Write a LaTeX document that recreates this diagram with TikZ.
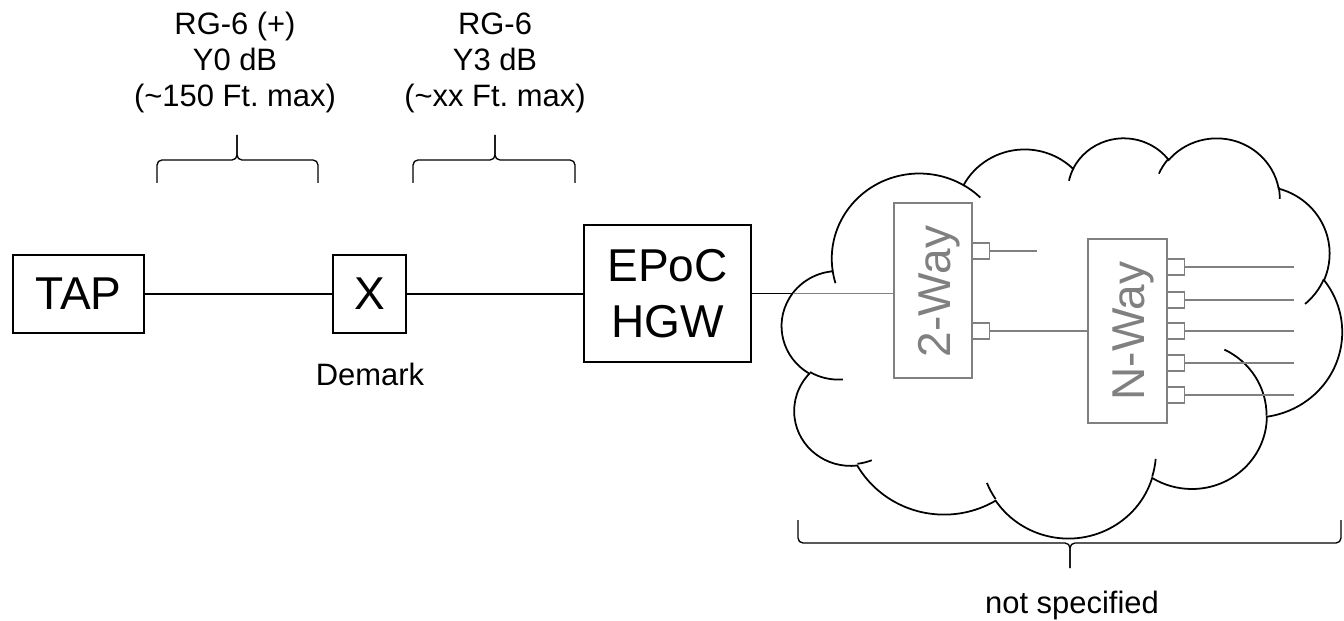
\documentclass[tikz,border=0pt]{standalone}
\usepackage{fontspec}
\setmainfont{Liberation Sans}
\usetikzlibrary{positioning}
\frenchspacing

\newcommand{\puffarc}[4]{arc[x radius=#1, y radius=#2,
  start angle={atan2(#1*sin(#3),#2*cos(#3))},
  delta angle={mod(atan2(#1*sin(#3+#4),#2*cos(#3+#4))-atan2(#1*sin(#3),#2*cos(#3))+720,360)}]}

\tikzset{
  box/.style={draw, line width=1.1pt, inner sep=0pt, align=center,
    font=\fontsize{26.2}{31.9}\selectfont},
  wire/.style={line width=0.85pt},
  gbox/.style={draw=gray, line width=0.75pt, inner sep=0pt},
  glbl/.style={text=gray, rotate=90, inner sep=0pt, text depth=0pt,
    font=\fontsize{26.2}{31.9}\selectfont},
  gport/.style={draw=gray, line width=0.75pt, inner sep=0pt,
    minimum width=0.34cm, minimum height=0.32cm, anchor=west},
  gwire/.style={gray, line width=0.6pt},
  lbl/.style={inner sep=0pt, align=center, font=\fontsize{17.6}{20.5}\selectfont},
  brc/.style={line width=0.75pt, rounded corners=0.1cm},
  cloudline/.style={line width=1pt},
}

\begin{document}
\begin{tikzpicture}
    \useasboundingbox (0,0) rectangle (26.88,-12.42);

    \begin{scope}[shift={(15.64,-2.74)}, x=0.025926cm, y=-0.018519cm, cloudline]
        \draw[fill=white] (39.00,143.70)
            \puffarc{67.53}{91.90}{-190.4875}{123.7805}
            \puffarc{53.33}{72.67}{-144.1024}{89.9452}
            \puffarc{43.65}{59.45}{-145.8079}{99.7230}
            \puffarc{48.57}{65.95}{-130.9861}{117.2417}
            \puffarc{53.33}{72.73}{-78.7089}{109.0269}
            \puffarc{67.75}{92.20}{-46.2673}{130.2690}
            \puffarc{57.85}{78.67}{0.6250}{114.0333}
            \puffarc{67.52}{92.15}{22.4516}{115.1726}
            \puffarc{77.20}{105.43}{66.2426}{75.7110}
            \puffarc{43.60}{59.18}{-274.9421}{146.7356}
            \puffarc{43.45}{59.45}{-246.8285}{152.5189}
            -- cycle;
        \foreach \px/\py/\rx/\ry/\st/\sw in {
            46.93/261.77/43.45/59.45/86.7420/26.4295,
            69.28/348.99/43.60/59.18/73.6105/11.4475,
            164.78/390.90/67.52/92.15/137.6242/14.0811,
            288.27/347.51/67.52/92.15/6.4533/15.9984,
            341.29/229.54/57.85/78.67/-70.2924/70.9174,
            417.98/153.54/53.33/72.73/30.3180/27.7515,
            383.24/54.26/48.57/65.95/-13.7443/14.8589,
            290.78/39.52/48.57/65.95/-149.1815/18.1954,
            221.41/47.20/43.65/59.45/-163.4943/17.6864,
            140.00/51.92/67.53/91.90/-66.7070/12.3194,
            41.27/157.89/67.53/91.90/157.6544/11.8582}
            \draw (\px,\py) \puffarc{\rx}{\ry}{\st}{\sw};
    \end{scope}

    \node[box, minimum width=2.62cm, minimum height=1.56cm] (tap) at (1.57,-5.88) {TAP};
    \node[box, minimum width=1.46cm, minimum height=1.56cm] (dmk) at (7.39,-5.88) {X};
    \node[box, minimum width=3.34cm, minimum height=2.74cm] (hgw) at (13.35,-5.87) {EPoC\\HGW};
    \node[lbl, anchor=base] (demark) at (7.40,-7.70) {Demark};

    \draw[wire] (tap) -- (dmk);
    \draw[wire] (dmk.east) -- (dmk.east -| hgw.west);
    \coordinate (cin) at (15.86,-5.87);
    \draw[wire] (hgw.east) -- (cin);

    \node[lbl, anchor=base] (rga) at (4.70,-2.14) {RG-6 (+)\\Y0 dB\\(\textasciitilde150 Ft. max)};
    \node[lbl, anchor=base] (rgb) at (9.90,-2.14) {RG-6\\Y3 dB\\(\textasciitilde xx Ft. max)};
    \draw[brc] (3.14,-3.66) |- (4.74,-3.20) -- (4.74,-2.70);
    \draw[brc] (6.36,-3.66) |- (4.74,-3.20) -- (4.74,-2.70);
    \draw[brc] (8.26,-3.66) |- (9.90,-3.20) -- (9.90,-2.70);
    \draw[brc] (11.50,-3.66) |- (9.90,-3.20) -- (9.90,-2.70);

    \node[gbox, minimum width=1.56cm, minimum height=3.5cm] (twoway) at (18.66,-5.81) {};
    \node[glbl] (twolbl) at (18.68,-5.83) {2-Way};
    \node[gbox, minimum width=1.58cm, minimum height=3.68cm] (nway) at (22.55,-6.62) {};
    \node[glbl] (nlbl) at (22.57,-6.62) {N-Way};

    \draw[gwire] (cin) -- (cin -| twoway.west);
    \node[gport] (tp1) at (19.44,-5.02) {};
    \node[gport] (tp2) at (19.44,-6.62) {};
    \coordinate (tend) at (20.74,-5.02);
    \draw[gwire] (tp1.east) -- (tend);
    \draw[gwire] (tp2.east) -- (nway.west);
    \foreach \i/\y in {1/-5.34,2/-6.00,3/-6.62,4/-7.26,5/-7.90} {
        \node[gport] (np\i) at (23.34,\y) {};
        \coordinate (ne\i) at (25.88,\y);
        \draw[gwire] (np\i.east) -- (ne\i);
    }

    \draw[brc] (15.96,-10.40) |- (21.40,-10.86) -- (21.40,-11.36);
    \draw[brc] (26.82,-10.40) |- (21.40,-10.86) -- (21.40,-11.36);
    \node[lbl, anchor=base] (nspec) at (21.44,-12.26) {not specified};
\end{tikzpicture}
\end{document}
